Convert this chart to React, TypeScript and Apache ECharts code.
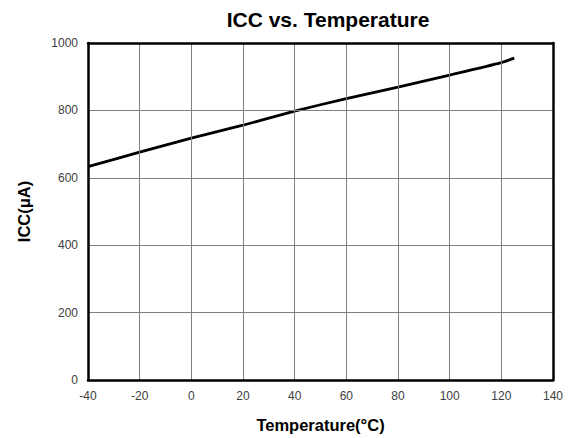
import React, { useEffect, useRef } from "react";
import * as echarts from "echarts";

const temps = [-40, -20, 0, 20, 40, 60, 80, 100, 120, 125];
const icc = [633, 676, 718, 756, 798, 835, 869, 905, 942, 955];
const titleText = "ICC vs. Temperature";
const xName = "Temperature(°C)";
const yName = "ICC(μA)";
const FONT = "Liberation Sans, Arial, sans-serif";

export default function App() {
  const ref = useRef<HTMLDivElement>(null);
  useEffect(() => {
    const chart = echarts.init(ref.current!, null, { renderer: "svg" });
    const frameAxis = {
      type: "value",
      min: -40,
      max: 140,
      interval: 20,
      axisLine: { show: true, onZero: false, lineStyle: { color: "#000", width: 2.5 } },
      axisTick: { show: false },
      axisLabel: { show: false },
      splitLine: { show: false },
    };
    chart.setOption({
      animation: false,
      backgroundColor: "#fff",
      title: {
        text: titleText,
        left: 323,
        top: 4,
        textAlign: "center",
        textStyle: { fontFamily: FONT, fontSize: 21, fontWeight: "bold", color: "#000" },
      },
      grid: {
        left: 88,
        right: 18,
        top: 43,
        bottom: 55,
        show: false,
        containLabel: false,
      },
      xAxis: [
        {
          type: "value",
          min: -40,
          max: 140,
          interval: 20,
          position: "bottom",
          name: xName,
          nameLocation: "middle",
          nameGap: 36,
          nameTextStyle: { fontFamily: FONT, fontSize: 16.5, fontWeight: "bold", color: "#000" },
          axisLine: { show: true, onZero: false, lineStyle: { color: "#000", width: 2.5 } },
          axisTick: { show: false },
          axisLabel: { margin: 10, fontFamily: FONT, fontSize: 12, color: "#404040" },
          splitLine: { show: true, lineStyle: { color: "#808080", width: 1 } },
          z: 5,
        },
        { ...frameAxis, position: "top", z: 5 },
      ],
      yAxis: [
        {
          type: "value",
          min: 0,
          max: 1000,
          interval: 200,
          position: "left",
          name: yName,
          nameLocation: "middle",
          nameGap: 56,
          nameTextStyle: { fontFamily: FONT, fontSize: 16.5, fontWeight: "bold", color: "#000" },
          axisLine: { show: true, onZero: false, lineStyle: { color: "#000", width: 2.5 } },
          axisTick: { show: false },
          axisLabel: { margin: 10, fontFamily: FONT, fontSize: 12, color: "#404040", formatter: (v: number) => String(v) },
          splitLine: { show: true, lineStyle: { color: "#808080", width: 1 } },
          z: 5,
        },
        { ...frameAxis, min: 0, max: 1000, interval: 200, position: "right", z: 5 },
      ],
      series: [
        {
          type: "line",
          data: temps.map((t, i) => [t, icc[i]]),
          showSymbol: false,
          smooth: 0.2,
          lineStyle: { color: "#000", width: 2.8 },
          z: 3,
        },
      ],
    });
    return () => chart.dispose();
  }, []);
  return <div ref={ref} style={{ position: "fixed", left: 0, top: 0, width: 571, height: 438 }} />;
}
